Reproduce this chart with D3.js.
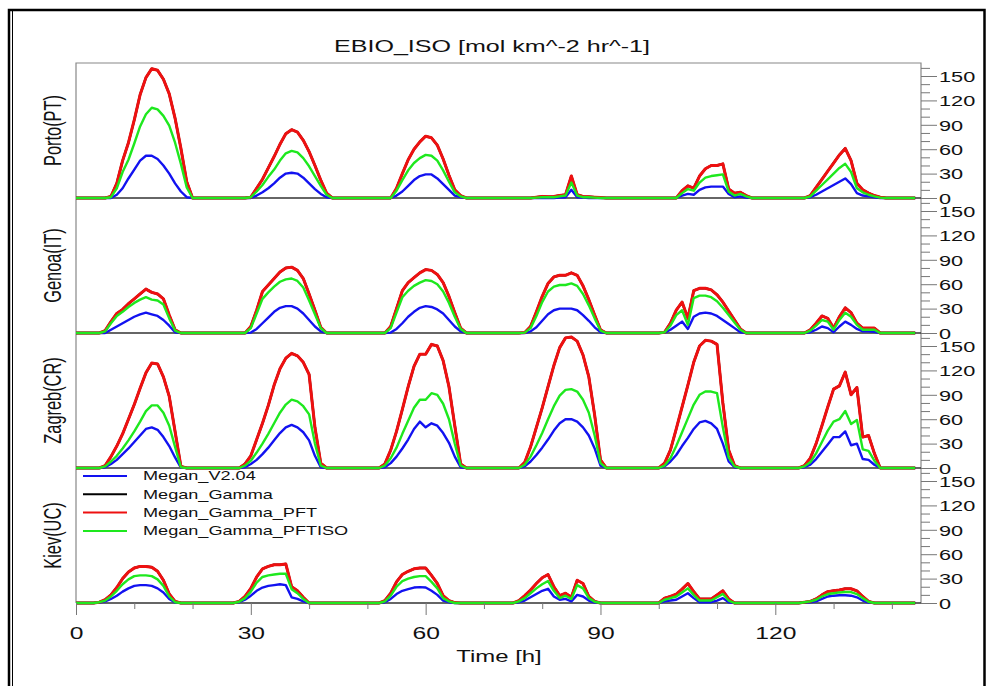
<!DOCTYPE html>
<html>
<head>
<meta charset="utf-8">
<title>EBIO_ISO time series</title>
<script src="https://d3js.org/d3.v7.min.js"></script>
<style>
body { margin: 0; padding: 0; background: #fff; }
svg { display: block; font-family: "Liberation Sans", Arial, sans-serif; }
.axis path, .axis line { stroke: #777; stroke-width: 1px; }
.axis text { fill: #111; }
</style>
</head>
<body>
<svg id="chart" width="986" height="686"></svg>
<script>

var stations = ["Porto(PT)", "Genoa(IT)", "Zagreb(CR)", "Kiev(UC)"];
var seriesNames = ["Megan_V2.04", "Megan_Gamma", "Megan_Gamma_PFT", "Megan_Gamma_PFTISO"];
var seriesColors = ["#1212f0", "#000000", "#ee1010", "#1ee81e"];
var xTicks = [0, 30, 60, 90, 120];
var xMinor = [10, 20, 40, 50, 70, 80, 100, 110, 130, 140];
var yTicks = [0, 30, 60, 90, 120, 150];
var yMinor = [10, 20, 40, 50, 70, 80, 100, 110, 130, 140, 160];

// hourly values, one row per day (hour 0..143) plus the last hour 144

var portoV204 = [
  0,0,0,0,0,0,0,4,12,24,35,46,52,52,48,40,30,18,8,1,0,0,0,0,
  0,0,0,0,0,0,0,3,7,12,18,25,30,31,30,25,18,11,5,1,0,0,0,0,
  0,0,0,0,0,0,0,3,8,15,22,27,29,29,24,17,10,3,1,0,0,0,0,0,
  0,0,0,0,0,0,0,0,0,0,0,0.5,1,10,1,0.5,0,0,0,0,0,0,0,0,
  0,0,0,0,0,0,0,0,3,5,4,10,13,14,14,14,5,1,2,0.5,0,0,0,0,
  0,0,0,0,0,0,1,4,8,12,16,20,24,17,6,3,2,1,0,0,0,0,0,0,
  0];
var portoPFT = [
  0,0,0,0,0,0,2,18,46,68,96,127,148,159,157,146,128,98,61,20,0,0,0,0,
  0,0,0,0,0,0,1,12,23,37,51,66,79,84,81,71,57,40,22,6,0,0,0,0,
  0,0,0,0,0,0,0,12,30,47,60,69,76,74,65,48,28,10,3,0,0,0,0,0,
  0,0,0,0,0,0,0,1,2,1.5,2,3,4,27,4,2,1.5,1,0.5,0,0,0,0,0,
  0,0,0,0,0,0,0,0,9,15,12,27,36,40,40,42,11,6,7,3,0,0,0,0,
  0,0,0,0,0,0,3,13,23,33,43,53,61,46,18,10,6,3,1,0,0,0,0,0,
  0];
var portoPFTISO = [
  0,0,0,0,0,0,1,12,32,47,67,88,103,111,109,101,89,68,42,13,0,0,0,0,
  0,0,0,0,0,0,1,8,16,26,35,46,55,58,56,49,39,27,15,4,0,0,0,0,
  0,0,0,0,0,0,0,9,22,34,43,49,53,52,46,34,20,7,2,0,0,0,0,0,
  0,0,0,0,0,0,0,0.5,1,1,1,2,3,19,3,1,1,0.5,0,0,0,0,0,0,
  0,0,0,0,0,0,0,0,6,11,9,19,25,27,28,29,8,3,5,2,0,0,0,0,
  0,0,0,0,0,0,2,9,16,23,30,37,42,32,12,7,4,2,0.5,0,0,0,0,0,
  0];

var genoaV204 = [
  0,0,0,0,0,0,4,8,12,16,20,23,25,23,21,16,9,1,0,0,0,0,0,0,
  0,0,0,0,0,0,0.5,5,12,19,26,31,33,33,30,24,16,8,2,0,0,0,0,0,
  0,0,0,0,0,0,0.5,5,12,20,26,31,33,32,29,24,16,8,2,0,0,0,0,0,
  0,0,0,0,0,0,2,7,15,23,28,30,30,30,28,22,15,7,1,0,0,0,0,0,
  0,0,0,0,0,0.5,4,9,14,5,20,24,25,24,21,16,11,6,1,0,0,0,0,0,
  0,0,0,0,0,0,1,4,8,6,1,8,14,10,5,2,2,1.5,0,0,0,0,0,0,
  0];
var genoaPFT = [
  0,0,0,0,0,3,14,24,29,36,42,48,54,50,48,42,22,4,0,0,0,0,0,0,
  0,0,0,0,0,0,8,28,51,59,67,75,80,81,77,67,48,28,7,0,0,0,0,0,
  0,0,0,0,0,0,8,30,52,62,68,74,78,77,72,62,45,25,6,0,0,0,0,0,
  0,0,0,0,0,0.5,8,26,45,61,69,71,71,74,71,58,41,22,4,0,0,0,0,0,
  0,0,0,0,0,1,12,28,38,18,52,55,55,53,47,38,27,16,5,0,0,0,0,0,
  0,0,0,0,0,0,4,12,21,18,6,20,31,25,12,6,6,6,0,0,0,0,0,0,
  0];
var genoaPFTISO = [
  0,0,0,0,0,2,12,21,26,32,37,41,44,41,40,35,18,3,0,0,0,0,0,0,
  0,0,0,0,0,0,6,24,42,50,57,63,66,67,64,56,40,23,6,0,0,0,0,0,
  0,0,0,0,0,0,6,25,44,52,58,62,65,64,60,51,37,20,5,0,0,0,0,0,
  0,0,0,0,0,0.5,6,21,38,51,57,59,59,61,58,48,34,18,3,0,0,0,0,0,
  0,0,0,0,0,1,9,22,28,10,43,46,46,44,39,31,22,13,4,0,0,0,0,0,
  0,0,0,0,0,0,3,9,16,14,4,16,25,20,10,4,4,4,0,0,0,0,0,0,
  0];

var zagrebV204 = [
  0,0,0,0,0,1,5,10,17,24,32,40,48,50,47,38,27,13,0.5,0,0,0,0,0,
  0,0,0,0,0,1,5,10,17,25,34,43,50,53,50,44,34,15,1,0,0,0,0,0,
  0,0,0,0,0,1,6,14,24,35,48,57,50,55,52,43,31,14,1,0,0,0,0,0,
  0,0,0,0,0,2,8,16,25,35,46,55,60,60,57,50,40,24,3,0,0,0,0,0,
  0,0,0,0,0,2,8,16,27,37,48,56,58,55,48,30,8,1,0,0,0,0,0,0,
  0,0,0,0,0,1,4,11,20,29,38,38,45,28,30,11,10,4,0,0,0,0,0,0,
  0];
var zagrebPFT = [
  0,0,0,0,0,3,14,27,42,60,78,98,117,129,128,112,88,45,2,0,0,0,0,0,
  0,0,0,0,0,5,15,35,55,77,102,122,135,141,138,130,115,50,6,0,0,0,0,0,
  0,0,0,0,0,5,22,45,72,100,125,140,140,152,150,132,100,52,5,0,0,0,0,0,
  0,0,0,0,0,7,26,50,74,100,126,148,160,161,156,139,112,65,10,0,0,0,0,0,
  0,0,0,0,0,6,22,48,75,102,130,150,157,156,152,80,22,3,0,0,0,0,0,0,
  0,0,0,0,0,3,12,30,52,75,97,101,118,90,99,38,40,18,0,0,0,0,0,0,
  0];
var zagrebPFTISO = [
  0,0,0,0,0,2,8,15,24,34,45,57,70,77,77,68,52,26,1,0,0,0,0,0,
  0,0,0,0,0,3,9,19,30,42,55,68,78,84,82,76,66,30,3,0,0,0,0,0,
  0,0,0,0,0,3,12,25,42,58,74,84,84,92,90,79,60,30,3,0,0,0,0,0,
  0,0,0,0,0,4,14,28,43,60,76,89,96,97,94,84,68,40,6,0,0,0,0,0,
  0,0,0,0,0,3,12,27,44,61,78,90,94,94,92,50,13,2,0,0,0,0,0,0,
  0,0,0,0,0,2,7,18,32,46,57,60,70,54,59,23,21,9,0,0,0,0,0,0,
  0];

var kievV204 = [
  0,0,0,0,0.5,2,5,9,14,18,21,22,22,21,18,13,5,0.5,0,0,0,0,0,0,
  0,0,0,0,1,4,9,15,19,21,22,23,22,7,5,2,0,0,0,0,0,0,0,0,
  0,0,0,0,0,1,5,11,15,17,19,19.5,19,15,10,3,1,0,0,0,0,0,0,0,
  0,0,0,0,1,3,7,11,15,17.5,8,4,5,2,10,8,3,0.5,0,0,0,0,0,0,
  0,0,0,0,0,2,3,4,8,12,6,1,1,1,3,6,1,0,0,0,0,0,0,0,
  0,0,0,0,0,0.5,1,2,5,8,9,9.5,9.5,9,7,3,0.5,0,0,0,0,0,0,0,
  0];
var kievPFT = [
  0,0,0,0,1,4,10,19,30,38,43,45,45,44,39,28,11,2,0,0,0,0,0,0,
  0,0,0,0,2,8,18,32,42,45,47,47,48,20,15,7,0,0,0,0,0,0,0,0,
  0,0,0,0,0,3,12,26,35,39,42,43,43,34,24,9,3,0.5,0,0,0,0,0,0,
  0,0,0,0,3,9,16,24,31,35,20,9,12,7,28,24,8,2,0,0,0,0,0,0,
  0,0,0,0,0,6,8,11,17,24,14,5,5,5,10,15,5,0,0,0,0,0,0,0,
  0,0,0,0,0,1,2,5,10,14,15,16,17.5,17.5,15,8,2,0,0,0,0,0,0,0,
  0];
var kievPFTISO = [
  0,0,0,0,1,3,8,15,23,29,33,34,34,33,29,21,8,1,0,0,0,0,0,0,
  0,0,0,0,1.5,6,14,25,32,34,35,36,36,17,12,5,0,0,0,0,0,0,0,0,
  0,0,0,0,0,2,9,20,27,30,32,33,33,26,18,6,2,0,0,0,0,0,0,0,
  0,0,0,0,2,6,12,18,23,27,15,6,9,5,22,18,6,1.5,0,0,0,0,0,0,
  0,0,0,0,0,4,6,8,13,18,10,3,3,3,7,11,3,0,0,0,0,0,0,0,
  0,0,0,0,0,1,2,4,8,11,12,13,13.5,13.5,11,6,1.5,0,0,0,0,0,0,0,
  0];

// Megan_Gamma lies exactly under Megan_Gamma_PFT in the picture
var panels = [
  [portoV204, portoPFT, portoPFT, portoPFTISO],
  [genoaV204, genoaPFT, genoaPFT, genoaPFTISO],
  [zagrebV204, zagrebPFT, zagrebPFT, zagrebPFTISO],
  [kievV204, kievPFT, kievPFT, kievPFTISO]
];

var SX = 1.45;   // the picture is stretched sideways, text too
var plotLeft = 76, plotRight = 921, plotTop = 63, panelH = 135;
var lineWidths = [2.4, 2.4, 3, 2.4];

var svg = d3.select("#chart");

function stretched(parent, x, y, str, size, anchor, rotate) {
  return parent.append("g")
      .attr("transform", "translate(" + x + "," + y + ") scale(" + SX + ",1)" + (rotate ? " rotate(-90)" : ""))
    .append("text")
      .attr("text-anchor", anchor)
      .attr("dominant-baseline", "central")
      .attr("font-size", size)
      .attr("fill", "#111")
      .text(str);
}

// outer frame
svg.append("path")
  .attr("d", "M9,700V10H984.5V700")
  .attr("fill", "none").attr("stroke", "#000").attr("stroke-width", 2.5);
svg.append("line")
  .attr("x1", 12.5).attr("x2", 12.5).attr("y1", 11).attr("y2", 700)
  .attr("stroke", "#000").attr("stroke-width", 1);

stretched(svg, 492, 46, "EBIO_ISO [mol km^-2 hr^-1]", 17.3, "middle");

var x = d3.scaleLinear().domain([0, 145]).range([plotLeft, plotRight]);

// plot frame (gray)
svg.append("path")
  .attr("d", "M" + plotLeft + "," + (plotTop + 4 * panelH) + "V" + plotTop + "H" + plotRight + "V" + (plotTop + 4 * panelH))
  .attr("fill", "none").attr("stroke", "#888").attr("stroke-width", 1.2);

panels.forEach(function(series, p) {
  var y0 = plotTop + p * panelH;
  var y = d3.scaleLinear().domain([0, 166]).range([y0 + panelH, y0]);
  var g = svg.append("g");

  // minor and major ticks on the right
  g.append("g").attr("class", "axis")
    .attr("transform", "translate(" + plotRight + ",0)")
    .call(d3.axisRight(y).tickValues(yMinor).tickSize(9).tickSizeOuter(0).tickFormat(""))
    .select(".domain").remove();
  var ax = g.append("g").attr("class", "axis")
    .attr("transform", "translate(" + plotRight + ",0)")
    .call(d3.axisRight(y).tickValues(yTicks).tickSize(16).tickSizeOuter(0));
  ax.select(".domain").remove();
  ax.selectAll(".tick text").remove();
  ax.selectAll(".tick").each(function(d) {
    stretched(d3.select(this), 18, 0, String(d), 15, "start");
  });

  // panel baseline
  g.append("line")
    .attr("x1", plotLeft).attr("x2", plotRight)
    .attr("y1", y(0)).attr("y2", y(0))
    .attr("stroke", "#333").attr("stroke-width", 1.4);

  var line = d3.line()
    .x(function(d, i) { return x(i); })
    .y(function(d) { return y(d); });

  [0, 1, 2, 3].forEach(function(k) {
    g.append("path")
      .datum(series[k])
      .attr("d", line)
      .attr("fill", "none")
      .attr("stroke", seriesColors[k])
      .attr("stroke-width", lineWidths[k])
      .attr("stroke-linejoin", "round");
  });

  stretched(svg, 53, y0 + panelH / 2, stations[p], 16.4, "middle", true);
});

// time axis
var plotBottom = plotTop + 4 * panelH;
svg.append("g").attr("class", "axis")
  .attr("transform", "translate(0," + plotBottom + ")")
  .call(d3.axisBottom(x).tickValues(xMinor).tickSize(6).tickSizeOuter(0).tickFormat(""))
  .select(".domain").remove();
var bx = svg.append("g").attr("class", "axis")
  .attr("transform", "translate(0," + plotBottom + ")")
  .call(d3.axisBottom(x).tickValues(xTicks).tickSize(12).tickSizeOuter(0));
bx.select(".domain").remove();
bx.selectAll(".tick text").remove();
bx.selectAll(".tick").each(function(d) {
  stretched(d3.select(this), 0, 30, String(d), 17, "middle");
});
stretched(svg, 499, 656, "Time [h]", 16.5, "middle");

// legend
var legend = svg.append("g");
seriesNames.forEach(function(name, k) {
  var ly = 476 + k * 18.3;
  legend.append("line")
    .attr("x1", 83).attr("x2", 127)
    .attr("y1", ly).attr("y2", ly)
    .attr("stroke", seriesColors[k]).attr("stroke-width", 2);
  stretched(legend, 143, ly, name, 12.5, "start");
});

</script>
</body>
</html>
